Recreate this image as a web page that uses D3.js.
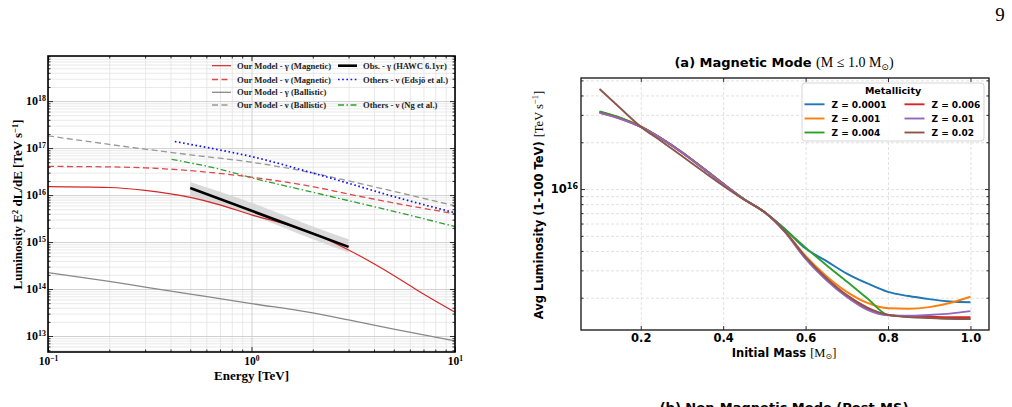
<!DOCTYPE html>
<html>
<head>
<meta charset="utf-8">
<script src="https://cdn.jsdelivr.net/npm/d3@7"></script>
<style>
  body { margin: 0; background: #fff; }
  svg { display: block; }
</style>
</head>
<body>
<div id="chart-area"></div>
<script>
// ---- left panel: Energy [TeV] vs E^2 dL/dE [TeV s^-1]
const magGammaE  = [0.1, 0.2, 0.3, 0.5, 0.7, 1, 1.5, 2, 3, 5, 7, 10]
const magGammaL  = [1.51e16, 1.45e16, 1.26e16, 8.9e15, 6.2e15, 3.8e15, 2.34e15, 1.55e15, 6.8e14, 1.95e14, 7.8e13, 3.2e13]
const modelE     = [0.1, 0.2, 0.3, 0.5, 1, 2, 3, 5, 10]
const magNuL     = [4.07e16, 3.98e16, 3.8e16, 3.31e16, 2.4e16, 1.51e16, 1.05e16, 6.8e15, 4.0e15]
const balGammaL  = [2.24e14, 1.45e14, 1.1e14, 7.8e13, 4.9e13, 3.1e13, 2.2e13, 1.4e13, 7.9e12]
const balNuL     = [1.82e17, 1.2e17, 9.5e16, 7.2e16, 5.0e16, 2.95e16, 2.0e16, 1.2e16, 5.9e15]
const edsjoE     = [0.42, 0.7, 1, 2, 3, 5, 10]
const edsjoL     = [1.38e17, 9.1e16, 6.6e16, 2.95e16, 1.78e16, 9.3e15, 4.2e15]
const ngE        = [0.405, 0.7, 1, 2, 3, 5, 10]
const ngL        = [5.75e16, 3.55e16, 2.34e16, 1.15e16, 7.6e15, 4.5e15, 2.14e15]
const hawcE      = [0.5, 3]
const hawcL      = [1.41e16, 7.9e14]
const hawcBandE  = [0.5, 1, 2, 3]
const hawcBandLo = [8.9e15, 3.7e15, 1.15e15, 6.0e14]
const hawcBandHi = [1.9e16, 6.9e15, 2.14e15, 1.15e15]

// ---- right panel: initial mass vs avg luminosity (x 1e15 TeV s^-1)
const masses = [0.1, 0.15, 0.2, 0.25, 0.3, 0.35, 0.4, 0.45, 0.5, 0.55, 0.6, 0.65, 0.7, 0.75, 0.8, 0.85, 0.9, 0.95, 1.0]
const lumZ0001 = [31.4, 28.7, 25.2, 21.1, 17.2, 13.7, 10.8, 8.62, 7.11, 5.53, 4.14, 3.45, 2.86, 2.47, 2.18, 2.05, 1.96, 1.89, 1.87]
const lumZ001  = [31.3, 28.6, 25.2, 21.1, 17.2, 13.7, 10.8, 8.62, 7.11, 5.37, 3.71, 2.76, 2.18, 1.85, 1.71, 1.70, 1.74, 1.85, 2.03]
const lumZ004  = [31.6, 28.8, 25.3, 21.2, 17.3, 13.75, 10.85, 8.65, 7.11, 5.49, 4.20, 3.25, 2.54, 1.98, 1.55, 1.51, 1.49, 1.47, 1.46]
const lumZ006  = [31.0, 28.4, 25.1, 21.1, 17.2, 13.65, 10.8, 8.6, 7.11, 5.31, 3.60, 2.64, 2.05, 1.70, 1.55, 1.52, 1.51, 1.50, 1.50]
const lumZ01   = [30.9, 28.3, 25.1, 21.1, 17.2, 13.65, 10.8, 8.62, 7.11, 5.29, 3.55, 2.60, 2.02, 1.67, 1.54, 1.53, 1.55, 1.58, 1.64]
const lumZ02   = [44.0, 33.2, 25.2, 20.3, 16.3, 13.05, 10.5, 8.56, 7.11, 5.33, 3.65, 2.68, 2.08, 1.73, 1.55, 1.50, 1.48, 1.465, 1.46]
const zLabels  = ["Z = 0.0001", "Z = 0.001", "Z = 0.004", "Z = 0.006", "Z = 0.01", "Z = 0.02"]
const zColors  = ["#1f77b4", "#ff7f0e", "#2ca02c", "#d62728", "#9467bd", "#8c564b"]
const unit = 1e15

const serif = "'Liberation Serif','Times New Roman',serif"
const sans = "'DejaVu Sans',sans-serif"

const svg = d3.select("#chart-area").append("svg")
    .attr("width", 1012)
    .attr("height", 407)

// page number
svg.append("text")
    .attr("x", 1000).attr("y", 21)
    .attr("text-anchor", "middle")
    .attr("font-family", serif)
    .attr("font-size", "19px")
    .text("9")

function supTicks(sel, expFn, supSize) {
    sel.selectAll(".tick text").each(function(d) {
        const t = d3.select(this)
        t.text(null)
        t.append("tspan").text("10")
        t.append("tspan").attr("dy", "-0.55em").attr("font-size", supSize).text(expFn(d))
    })
}

/* ================= LEFT PANEL ================= */
const L = {left: 48, right: 455, top: 56, bottom: 352}
const xL = d3.scaleLog().domain([0.1, 10]).range([L.left, L.right])
const yL = d3.scaleLog().domain([Math.pow(10, 12.66), Math.pow(10, 18.96)]).range([L.bottom, L.top])

const majorYL = [1e13, 1e14, 1e15, 1e16, 1e17, 1e18]
const minorYL = d3.range(12, 19).flatMap(p => d3.range(2, 10).map(k => k * Math.pow(10, p)))
    .filter(v => v > yL.domain()[0] && v < yL.domain()[1])
const majorXL = [0.1, 1, 10]
const minorXL = [-1, 0].flatMap(p => d3.range(2, 10).map(k => k * Math.pow(10, p)))

const gl = svg.append("g")
gl.append("clipPath").attr("id", "clipL").append("rect")
    .attr("x", L.left).attr("y", L.top).attr("width", L.right - L.left).attr("height", L.bottom - L.top)

// grid
function gridStyle(g, color, w) {
    g.select(".domain").remove()
    g.selectAll("line").attr("stroke", color).attr("stroke-width", w)
}
gl.append("g").attr("transform", `translate(${L.left},0)`)
    .call(d3.axisLeft(yL).tickValues(minorYL).tickSize(-(L.right - L.left)).tickFormat(""))
    .call(g => gridStyle(g, "#e3e3e3", 0.8))
gl.append("g").attr("transform", `translate(0,${L.bottom})`)
    .call(d3.axisBottom(xL).tickValues(minorXL).tickSize(-(L.bottom - L.top)).tickFormat(""))
    .call(g => gridStyle(g, "#e3e3e3", 0.8))
gl.append("g").attr("transform", `translate(${L.left},0)`)
    .call(d3.axisLeft(yL).tickValues(majorYL).tickSize(-(L.right - L.left)).tickFormat(""))
    .call(g => gridStyle(g, "#d0d0d0", 1))
gl.append("g").attr("transform", `translate(0,${L.bottom})`)
    .call(d3.axisBottom(xL).tickValues(majorXL).tickSize(-(L.bottom - L.top)).tickFormat(""))
    .call(g => gridStyle(g, "#d0d0d0", 1))

// curves
const curvesL = gl.append("g").attr("clip-path", "url(#clipL)")
const lineL = d3.line().x(d => xL(d[0])).y(d => yL(d[1])).curve(d3.curveMonotoneX)
const areaL = d3.area().x(d => xL(d[0])).y0(d => yL(d[1])).y1(d => yL(d[2])).curve(d3.curveMonotoneX)

curvesL.append("path")
    .attr("d", areaL(d3.zip(hawcBandE, hawcBandLo, hawcBandHi)))
    .attr("fill", "#d6d6d6")
    .attr("opacity", 0.9)

const leftSeries = [
    {e: modelE, l: balNuL, color: "#999999", w: 1.3, dash: "6,3.5"},
    {e: modelE, l: balGammaL, color: "#888888", w: 1.3, dash: null},
    {e: ngE, l: ngL, color: "#2ca02c", w: 1.3, dash: "6,2.5,1.5,2.5"},
    {e: edsjoE, l: edsjoL, color: "#1010ee", w: 1.7, dash: "1.6,2.6"},
    {e: modelE, l: magNuL, color: "#e0474c", w: 1.3, dash: "6,3.5"},
    {e: magGammaE, l: magGammaL, color: "#d62728", w: 1.2, dash: null},
    {e: hawcE, l: hawcL, color: "#000000", w: 2.6, dash: null}
]
leftSeries.forEach(s => {
    curvesL.append("path")
        .attr("d", lineL(d3.zip(s.e, s.l)))
        .attr("fill", "none")
        .attr("stroke", s.color)
        .attr("stroke-width", s.w)
        .attr("stroke-dasharray", s.dash)
})

// ticks (inward on all sides)
function tickStyle(g) {
    g.select(".domain").remove()
    g.selectAll("line").attr("stroke", "#000").attr("stroke-width", 0.8)
}
gl.append("g").attr("transform", `translate(${L.left},0)`)
    .call(d3.axisLeft(yL).tickValues(minorYL).tickSize(-2.5).tickFormat("")).call(tickStyle)
gl.append("g").attr("transform", `translate(${L.right},0)`)
    .call(d3.axisRight(yL).tickValues(minorYL).tickSize(-2.5).tickFormat("")).call(tickStyle)
gl.append("g").attr("transform", `translate(0,${L.bottom})`)
    .call(d3.axisBottom(xL).tickValues(minorXL).tickSize(-2.5).tickFormat("")).call(tickStyle)
gl.append("g").attr("transform", `translate(0,${L.top})`)
    .call(d3.axisTop(xL).tickValues(minorXL).tickSize(-2.5).tickFormat("")).call(tickStyle)
gl.append("g").attr("transform", `translate(${L.right},0)`)
    .call(d3.axisRight(yL).tickValues(majorYL).tickSize(-5).tickFormat("")).call(tickStyle)
gl.append("g").attr("transform", `translate(0,${L.top})`)
    .call(d3.axisTop(xL).tickValues(majorXL).tickSize(-5).tickFormat("")).call(tickStyle)

const yAxisL = gl.append("g").attr("transform", `translate(${L.left},0)`)
    .call(d3.axisLeft(yL).tickValues(majorYL).tickSize(-5).tickPadding(2))
    .call(tickStyle)
    .attr("font-family", serif).attr("font-size", "12px").attr("font-weight", "bold")
supTicks(yAxisL, d => String(Math.round(Math.log10(d))), "0.66em")

const xAxisL = gl.append("g").attr("transform", `translate(0,${L.bottom})`)
    .call(d3.axisBottom(xL).tickValues(majorXL).tickSize(-5).tickPadding(5))
    .call(tickStyle)
    .attr("font-family", serif).attr("font-size", "11.5px").attr("font-weight", "bold")
supTicks(xAxisL, d => String(Math.round(Math.log10(d))).replace("-", "\u2212"), "0.66em")

gl.append("rect")
    .attr("x", L.left).attr("y", L.top)
    .attr("width", L.right - L.left).attr("height", L.bottom - L.top)
    .attr("fill", "none").attr("stroke", "#000").attr("stroke-width", 1.6)

// axis labels
gl.append("text")
    .attr("x", (L.left + L.right) / 2).attr("y", 379.5)
    .attr("text-anchor", "middle")
    .attr("font-family", serif).attr("font-size", "13px").attr("font-weight", "bold")
    .text("Energy [TeV]")

const ylab = gl.append("text")
    .attr("transform", "translate(22,204.5) rotate(-90)")
    .attr("text-anchor", "middle")
    .attr("font-family", serif).attr("font-size", "13px").attr("font-weight", "bold")
ylab.append("tspan").text("Luminosity E")
ylab.append("tspan").attr("dy", "-0.5em").attr("font-size", "0.65em").text("2")
ylab.append("tspan").attr("dy", "0.325em").text(" dL/dE [TeV s")
ylab.append("tspan").attr("dy", "-0.5em").attr("font-size", "0.65em").text("\u22121")
ylab.append("tspan").attr("dy", "0.325em").text("]")

// legend (no frame)
const legL = [
    {label: "Our Model - \u03b3 (Magnetic)", s: leftSeries[5], col: 0, row: 0},
    {label: "Our Model - \u03bd (Magnetic)", s: leftSeries[4], col: 0, row: 1},
    {label: "Our Model - \u03b3 (Ballistic)", s: leftSeries[1], col: 0, row: 2},
    {label: "Our Model - \u03bd (Ballistic)", s: leftSeries[0], col: 0, row: 3},
    {label: "Obs. - \u03b3 (HAWC 6.1yr)", s: leftSeries[6], col: 1, row: 0},
    {label: "Others - \u03bd (Edsj\u00f6 et al.)", s: leftSeries[3], col: 1, row: 1},
    {label: "Others - \u03bd (Ng et al.)", s: leftSeries[2], col: 1, row: 3}
]
const legColX = [212, 338], legRowY = [65.7, 79.5, 92.3, 105]
legL.forEach(d => {
    const x0 = legColX[d.col], y0 = legRowY[d.row]
    gl.append("line")
        .attr("x1", x0).attr("x2", x0 + 19).attr("y1", y0).attr("y2", y0)
        .attr("stroke", d.s.color).attr("stroke-width", d.s.w)
        .attr("stroke-dasharray", d.s.dash)
    gl.append("text")
        .attr("x", x0 + 25).attr("y", y0 + 3)
        .attr("font-family", serif).attr("font-size", "8.6px").attr("font-weight", "bold")
        .attr("fill", "#222")
        .text(d.label)
})

/* ================= RIGHT PANEL ================= */
const R = {left: 581, right: 989, top: 78, bottom: 330}
const xR = d3.scaleLinear().domain([0.055, 1.045]).range([R.left, R.right])
const yR = d3.scaleLog().domain([1.24e15, 5.18e16]).range([R.bottom, R.top])

const majorYR = [1e16]
const minorYR = [15, 16].flatMap(p => d3.range(2, 10).map(k => k * Math.pow(10, p)))
    .filter(v => v > yR.domain()[0] && v < yR.domain()[1])
const xTicksR = [0.2, 0.4, 0.6, 0.8, 1.0]

const gr = svg.append("g")
gr.append("clipPath").attr("id", "clipR").append("rect")
    .attr("x", R.left).attr("y", R.top).attr("width", R.right - R.left).attr("height", R.bottom - R.top)

function dashGrid(g) {
    g.select(".domain").remove()
    g.selectAll("line").attr("stroke", "#d9d9d9").attr("stroke-width", 0.8).attr("stroke-dasharray", "3,2")
}
gr.append("g").attr("transform", `translate(${R.left},0)`)
    .call(d3.axisLeft(yR).tickValues(majorYR.concat(minorYR)).tickSize(-(R.right - R.left)).tickFormat(""))
    .call(dashGrid)
gr.append("g").attr("transform", `translate(0,${R.bottom})`)
    .call(d3.axisBottom(xR).tickValues(xTicksR).tickSize(-(R.bottom - R.top)).tickFormat(""))
    .call(dashGrid)

const curvesR = gr.append("g").attr("clip-path", "url(#clipR)")
const lineR = d3.line().x(d => xR(d[0])).y(d => yR(d[1] * unit)).curve(d3.curveMonotoneX)
const seriesR = [lumZ0001, lumZ001, lumZ004, lumZ006, lumZ01, lumZ02]
seriesR.forEach((vals, i) => {
    curvesR.append("path")
        .attr("d", lineR(d3.zip(masses, vals)))
        .attr("fill", "none")
        .attr("stroke", zColors[i])
        .attr("stroke-width", 1.9)
})

gr.append("g").attr("transform", `translate(${R.left},0)`)
    .call(d3.axisLeft(yR).tickValues(minorYR).tickSize(-2.5).tickFormat("")).call(tickStyle)
gr.append("g").attr("transform", `translate(${R.right},0)`)
    .call(d3.axisRight(yR).tickValues(minorYR).tickSize(-2.5).tickFormat("")).call(tickStyle)
gr.append("g").attr("transform", `translate(${R.right},0)`)
    .call(d3.axisRight(yR).tickValues(majorYR).tickSize(-4).tickFormat("")).call(tickStyle)
gr.append("g").attr("transform", `translate(0,${R.top})`)
    .call(d3.axisTop(xR).tickValues(xTicksR).tickSize(-4).tickFormat("")).call(tickStyle)

const yAxisR = gr.append("g").attr("transform", `translate(${R.left},0)`)
    .call(d3.axisLeft(yR).tickValues(majorYR).tickSize(-4).tickPadding(3))
    .call(tickStyle)
    .attr("font-family", sans).attr("font-size", "11.5px").attr("font-weight", "bold")
supTicks(yAxisR, d => String(Math.round(Math.log10(d))), "0.7em")

gr.append("g").attr("transform", `translate(0,${R.bottom})`)
    .call(d3.axisBottom(xR).tickValues(xTicksR).tickSize(-4).tickPadding(4).tickFormat(d3.format(".1f")))
    .call(tickStyle)
    .attr("font-family", sans).attr("font-size", "11.5px").attr("font-weight", "bold")

gr.append("rect")
    .attr("x", R.left).attr("y", R.top)
    .attr("width", R.right - R.left).attr("height", R.bottom - R.top)
    .attr("fill", "none").attr("stroke", "#222").attr("stroke-width", 1.4)

// title
const title = gr.append("text")
    .attr("x", 784).attr("y", 67.4)
    .attr("text-anchor", "middle")
    .attr("font-family", sans).attr("font-size", "13px").attr("font-weight", "bold")
title.append("tspan").text("(a) Magnetic Mode ")
title.append("tspan").attr("font-family", serif).attr("font-weight", "normal").attr("font-size", "14px")
    .text("(M \u2264 1.0 M")
title.append("tspan").attr("font-family", sans).attr("font-weight", "normal").attr("font-size", "9px")
    .attr("dy", "0.25em").text("\u2299")
title.append("tspan").attr("font-family", serif).attr("font-weight", "normal").attr("font-size", "14px")
    .attr("dy", "-0.2em").text(")")

// x label
const xlabR = gr.append("text")
    .attr("x", 784).attr("y", 357)
    .attr("text-anchor", "middle")
    .attr("font-family", sans).attr("font-size", "11.5px").attr("font-weight", "bold")
xlabR.append("tspan").text("Initial Mass ")
xlabR.append("tspan").attr("font-family", serif).attr("font-weight", "normal").attr("font-size", "12.5px").text("[M")
xlabR.append("tspan").attr("font-weight", "normal").attr("font-size", "8px").attr("dy", "0.25em").text("\u2299")
xlabR.append("tspan").attr("font-family", serif).attr("font-weight", "normal").attr("font-size", "12.5px")
    .attr("dy", "-0.17em").text("]")

// y label
const ylabR = gr.append("text")
    .attr("transform", "translate(543,205) rotate(-90)")
    .attr("text-anchor", "middle")
    .attr("font-family", sans).attr("font-size", "11.5px").attr("font-weight", "bold")
ylabR.append("tspan").text("Avg Luminosity (1-100 TeV) ")
ylabR.append("tspan").attr("font-family", serif).attr("font-weight", "normal").attr("font-size", "12.5px").text("[TeV s")
ylabR.append("tspan").attr("font-family", serif).attr("font-weight", "normal").attr("font-size", "8.5px")
    .attr("dy", "-0.6em").text("\u22121")
ylabR.append("tspan").attr("font-family", serif).attr("font-weight", "normal").attr("font-size", "12.5px")
    .attr("dy", "0.4em").text("]")

// legend
const legR = gr.append("g")
legR.append("rect")
    .attr("x", 802).attr("y", 83).attr("width", 182).attr("height", 58).attr("rx", 3)
    .attr("fill", "#fff").attr("fill-opacity", 0.85)
    .attr("stroke", "#cccccc").attr("stroke-width", 0.8)
legR.append("text")
    .attr("x", 893).attr("y", 93.5)
    .attr("text-anchor", "middle")
    .attr("font-family", sans).attr("font-size", "9.5px").attr("font-weight", "bold")
    .text("Metallicity")
zLabels.forEach((lab, i) => {
    const col = Math.floor(i / 3), row = i % 3
    const x0 = [804.5, 904.5][col], y0 = [104.3, 118.5, 132.5][row]
    legR.append("line")
        .attr("x1", x0).attr("x2", x0 + 20).attr("y1", y0).attr("y2", y0)
        .attr("stroke", zColors[i]).attr("stroke-width", 1.9)
    legR.append("text")
        .attr("x", x0 + 27).attr("y", y0 + 3.3)
        .attr("font-family", sans).attr("font-size", "9px").attr("font-weight", "bold")
        .text(lab)
})

// next panel title (cut off at the bottom in the original page)
svg.append("text")
    .attr("x", 784).attr("y", 411.5)
    .attr("text-anchor", "middle")
    .attr("font-family", sans).attr("font-size", "13px").attr("font-weight", "bold")
    .text("(b) Non-Magnetic Mode (Post-MS)")
</script>
</body>
</html>
